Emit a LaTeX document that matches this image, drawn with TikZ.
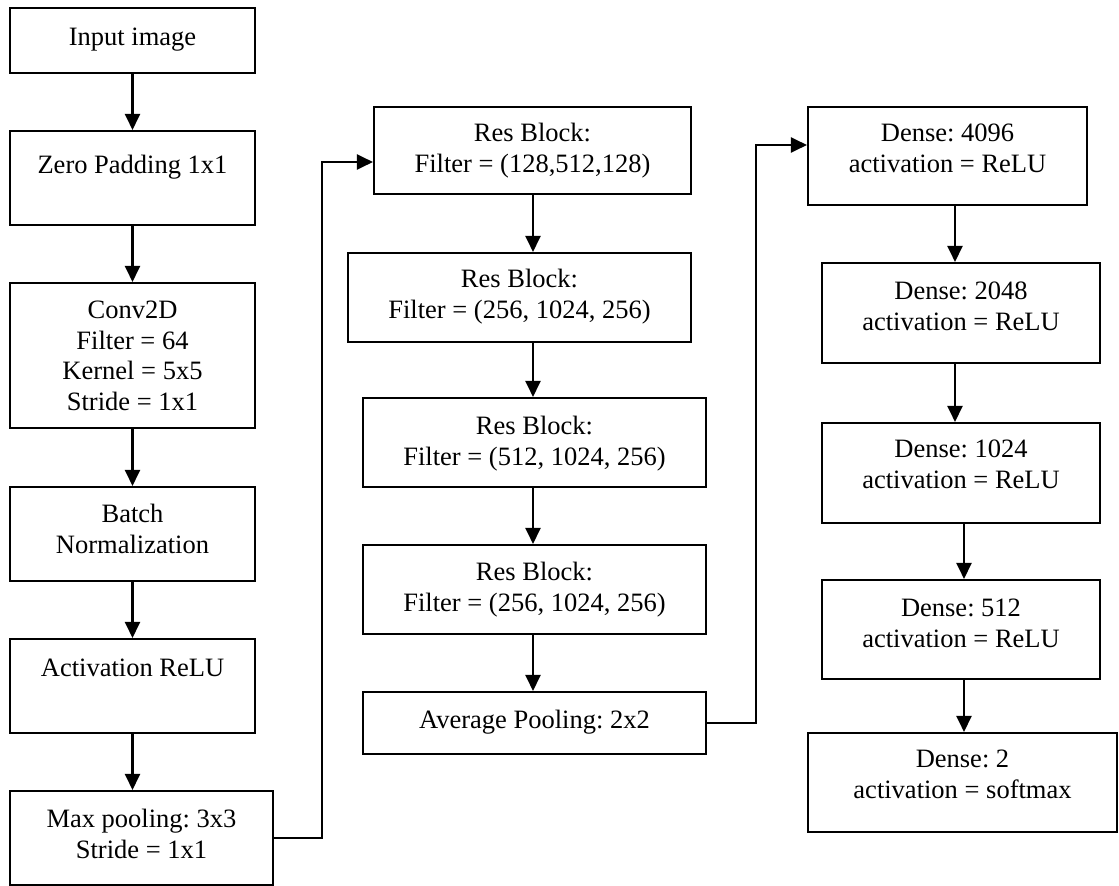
\documentclass[tikz,border=0pt]{standalone}
\usepackage{fontspec}
\setmainfont{Liberation Serif}
\usetikzlibrary{arrows.meta,fit,calc}
\begin{document}
\frenchspacing
\begin{tikzpicture}[x=1pt,y=-1pt,
  box/.style={draw, line width=2.1pt, inner sep=0pt},
  lbl/.style={anchor=base, align=center, inner sep=0pt, font=\fontsize{26.5}{30.5}\selectfont\frenchspacing},
  arr/.style={line width=2.3pt, -{Triangle[length=16pt,width=15pt]}},
  link/.style={line width=2.1pt, -{Triangle[length=16pt,width=15pt]}}]
\useasboundingbox (0,0) rectangle (1119,886);

% first column: input stem
\node[box, fit={(10,8) (255,73)}]    (in)   {};
\node[box, fit={(10,131) (255,225)}] (zp)   {};
\node[box, fit={(10,283) (255,428)}] (conv) {};
\node[box, fit={(10,487) (255,581)}] (bn)   {};
\node[box, fit={(10,639) (255,733)}] (act)  {};
\node[box, fit={(10,791) (273,885)}] (mp)   {};

% labels sit on the baseline of their last line
\node[lbl] (in-t)   at (in.center |- 0,45)    {Input image};
\node[lbl] (zp-t)   at (zp.center |- 0,173)   {Zero Padding 1x1};
\node[lbl] (conv-t) at (conv.center |- 0,410) {Conv2D\\Filter = 64\\Kernel = 5x5\\Stride = 1x1};
\node[lbl] (bn-t)   at (bn.center |- 0,553)   {Batch\\Normalization};
\node[lbl] (act-t)  at (act.center |- 0,676)  {Activation ReLU};
\node[lbl] (mp-t)   at (mp.center |- 0,858)   {Max pooling: 3x3\\Stride = 1x1};

% second column: residual blocks
\node[box, fit={(374,107) (691,194)}] (rb1) {};
\node[box, fit={(348,253) (691,342)}] (rb2) {};
\node[box, fit={(363,398) (706,487)}] (rb3) {};
\node[box, fit={(363,545) (706,634)}] (rb4) {};
\node[box, fit={(363,692) (706,754)}] (ap)  {};

\node[lbl] (rb1-t) at (rb1.center |- 0,172) {Res Block:\\Filter = (128,512,128)};
\node[lbl] (rb2-t) at (rb2.center |- 0,318) {Res Block:\\Filter = (256, 1024, 256)};
\node[lbl] (rb3-t) at (rb3.center |- 0,465) {Res Block:\\Filter = (512, 1024, 256)};
\node[lbl] (rb4-t) at (rb4.center |- 0,611) {Res Block:\\Filter = (256, 1024, 256)};
\node[lbl] (ap-t)  at (ap.center |- 0,728)  {Average Pooling: 2x2};

% third column: dense head
\node[box, fit={(808,107) (1087,205)}]  (d1) {};
\node[box, fit={(822,263) (1100,363)}]  (d2) {};
\node[box, fit={(822,423) (1100,523)}]  (d3) {};
\node[box, fit={(822,580) (1100,679)}]  (d4) {};
\node[box, fit={(808,733) (1117,832)}]  (d5) {};

\node[lbl] (d1-t) at (d1.center |- 0,172) {Dense: 4096\\activation = ReLU};
\node[lbl] (d2-t) at (d2.center |- 0,330) {Dense: 2048\\activation = ReLU};
\node[lbl] (d3-t) at (d3.center |- 0,488) {Dense: 1024\\activation = ReLU};
\node[lbl] (d4-t) at (d4.center |- 0,647) {Dense: 512\\activation = ReLU};
\node[lbl] (d5-t) at (d5.center |- 0,798) {Dense: 2\\activation = softmax};

% vertical guides for the arrows
\coordinate (c2)  at (533,0);
\coordinate (c3a) at (955,0);
\coordinate (c3b) at (964,0);

% arrows inside the columns
\draw[arr] (in.south)   -- (in.south |- zp.north);
\draw[arr] (zp.south)   -- (zp.south |- conv.north);
\draw[arr] (conv.south) -- (conv.south |- bn.north);
\draw[arr] (bn.south)   -- (bn.south |- act.north);
\draw[arr] (act.south)  -- (act.south |- mp.north);

\draw[arr] (rb1.south -| c2) -- (rb2.north -| c2);
\draw[arr] (rb2.south -| c2) -- (rb3.north -| c2);
\draw[arr] (rb3.south -| c2) -- (rb4.north -| c2);
\draw[arr] (rb4.south -| c2) -- (ap.north -| c2);

\draw[arr] (d1.south -| c3a) -- (d2.north -| c3a);
\draw[arr] (d2.south -| c3a) -- (d3.north -| c3a);
\draw[arr] (d3.south -| c3b) -- (d4.north -| c3b);
\draw[arr] (d4.south -| c3b) -- (d5.north -| c3b);

% links between the columns
\coordinate (j1) at (322,162);
\coordinate (j2) at (756,145);
\draw[link] (mp.east) -| (j1) -- (rb1.west |- j1);
\draw[link] (ap.east) -| (j2) -- (d1.west |- j2);
\end{tikzpicture}
\end{document}
